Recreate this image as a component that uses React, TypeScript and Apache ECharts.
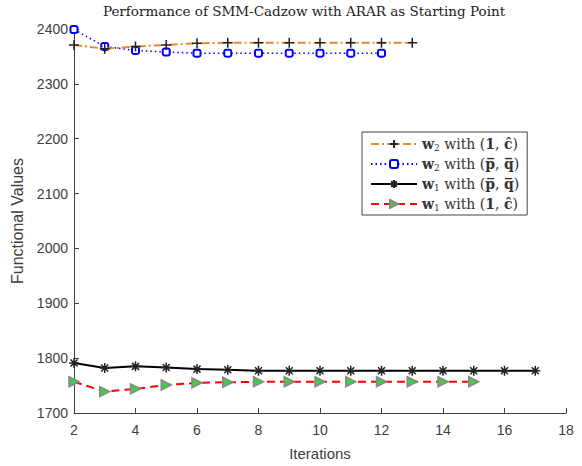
import React, { useEffect, useRef } from "react";
import * as echarts from "echarts";

const itersW2One = [2, 3, 4, 5, 6, 7, 8, 9, 10, 11, 12, 13];
const valsW2One = [2371, 2364, 2368, 2371, 2374, 2375, 2375, 2375, 2375, 2375, 2375, 2375];

const itersW2Pq = [2, 3, 4, 5, 6, 7, 8, 9, 10, 11, 12];
const valsW2Pq = [2399, 2368, 2361, 2358, 2356, 2356, 2356, 2356, 2356, 2356, 2356];

const itersW1Pq = [2, 3, 4, 5, 6, 7, 8, 9, 10, 11, 12, 13, 14, 15, 16, 17];
const valsW1Pq = [1791, 1782, 1785, 1783, 1780, 1779, 1777, 1777, 1777, 1777, 1777, 1777, 1777, 1777, 1777, 1777];

const itersW1One = [2, 3, 4, 5, 6, 7, 8, 9, 10, 11, 12, 13, 14, 15];
const valsW1One = [1757, 1739, 1744, 1751, 1755, 1756, 1757, 1757, 1757, 1757, 1757, 1757, 1757, 1757];

const seriesNames = ["w2one", "w2pq", "w1pq", "w1one"];
const legendTexts: Record<string, string> = {
  w2one: "{w|w}{s|2}{t| with (}{w|1}{t|, }{w|ĉ}{t|)}",
  w2pq: "{w|w}{s|2}{t| with (}{w|p̅}{t|, }{w|q̅}{t|)}",
  w1pq: "{w|w}{s|1}{t| with (}{w|p̅}{t|, }{w|q̅}{t|)}",
  w1one: "{w|w}{s|1}{t| with (}{w|1}{t|, }{w|ĉ}{t|)}",
};

const title = "Performance of SMM-Cadzow with ARAR as Starting Point";
const xName = "Iterations";
const yName = "Functional Values";

const pair = (xs: number[], ys: number[]) => xs.map((x, i) => [x, ys[i]]);

export default function App() {
  const ref = useRef<HTMLDivElement>(null);
  useEffect(() => {
    if (!ref.current) return;
    const chart = echarts.init(ref.current, undefined, { renderer: "svg" });
    const serif = "'DejaVu Serif', 'Liberation Serif', serif";
    const sans = "'Liberation Sans', Arial, sans-serif";
    chart.setOption({
      animation: false,
      backgroundColor: "#fff",
      graphic: [
        {
          type: "text",
          x: 304,
          y: 4,
          style: {
            text: title,
            font: `13.5px ${serif}`,
            fill: "#222",
            textAlign: "center",
          },
        },
      ],
      grid: { left: 74, right: 16, top: 29, bottom: 51, containLabel: false },
      legend: {
        orient: "vertical",
        left: 362,
        top: 132,
        backgroundColor: "#fff",
        borderColor: "#444",
        borderWidth: 1,
        padding: [4, 8, 3, 8],
        itemGap: 4,
        itemWidth: 46,
        itemHeight: 10,
        data: seriesNames,
        formatter: (n: string) => legendTexts[n],
        textStyle: {
          color: "#333",
          lineHeight: 16,
          rich: {
            w: { fontFamily: serif, fontWeight: "bold", fontSize: 14, color: "#333", lineHeight: 16 },
            s: { fontFamily: serif, fontSize: 9, color: "#333", lineHeight: 16, verticalAlign: "bottom", padding: [0, 0, 0, 0] },
            t: { fontFamily: serif, fontSize: 14, color: "#333", lineHeight: 16 },
          },
        },
      },
      xAxis: {
        type: "value",
        min: 2,
        max: 18,
        interval: 2,
        name: xName,
        nameLocation: "middle",
        nameGap: 33,
        nameTextStyle: { fontFamily: sans, fontSize: 15, color: "#404040" },
        axisLine: { lineStyle: { color: "#404040", width: 1 } },
        axisTick: { inside: true, length: 5, lineStyle: { color: "#404040" } },
        axisLabel: { fontFamily: sans, fontSize: 14, color: "#404040", margin: 10 },
        splitLine: { show: false },
      },
      yAxis: {
        type: "value",
        min: 1700,
        max: 2400,
        interval: 100,
        name: yName,
        nameLocation: "middle",
        nameGap: 43,
        nameTextStyle: { fontFamily: sans, fontSize: 16, color: "#404040" },
        axisLine: { show: true, lineStyle: { color: "#404040", width: 1 } },
        axisTick: { show: true, inside: true, length: 5, lineStyle: { color: "#404040" } },
        axisLabel: {
          fontFamily: sans,
          fontSize: 14,
          color: "#404040",
          margin: 6,
          formatter: (v: number) => String(v),
        },
        splitLine: { show: false },
      },
      series: [
        {
          name: "w2one",
          type: "line",
          data: pair(itersW2One, valsW2One),
          symbol: "path://M5,0L5,10M0,5L10,5",
          symbolSize: 10,
          itemStyle: { color: "#222", borderColor: "#222", borderWidth: 1.5 },
          lineStyle: { color: "#E8892E", width: 2, type: [8, 3, 2, 3] },
          z: 3,
        },
        {
          name: "w2pq",
          type: "line",
          data: pair(itersW2Pq, valsW2Pq),
          symbol: "roundRect",
          symbolSize: 7,
          itemStyle: { color: "#fff", borderColor: "#0000FF", borderWidth: 2 },
          lineStyle: { color: "#0000FF", width: 1.5, type: [1.5, 3] },
          z: 2,
        },
        {
          name: "w1pq",
          type: "line",
          data: pair(itersW1Pq, valsW1Pq),
          symbol: "path://M5,0L5,10M0,5L10,5M1.5,1.5L8.5,8.5M8.5,1.5L1.5,8.5",
          symbolSize: 10,
          itemStyle: { color: "#222", borderColor: "#222", borderWidth: 1.5 },
          lineStyle: { color: "#000", width: 2, type: "solid" },
          z: 3,
        },
        {
          name: "w1one",
          type: "line",
          data: pair(itersW1One, valsW1One),
          symbol: "path://M0,0L10,5L0,10Z",
          symbolSize: 10,
          itemStyle: { color: "#44CC44", borderColor: "#888", borderWidth: 1.5 },
          lineStyle: { color: "#FF0000", width: 2, type: [8, 5] },
          z: 3,
        },
      ],
    });
    return () => chart.dispose();
  }, []);
  return <div ref={ref} style={{ width: 582, height: 466, position: "absolute", left: 0, top: 0 }} />;
}
